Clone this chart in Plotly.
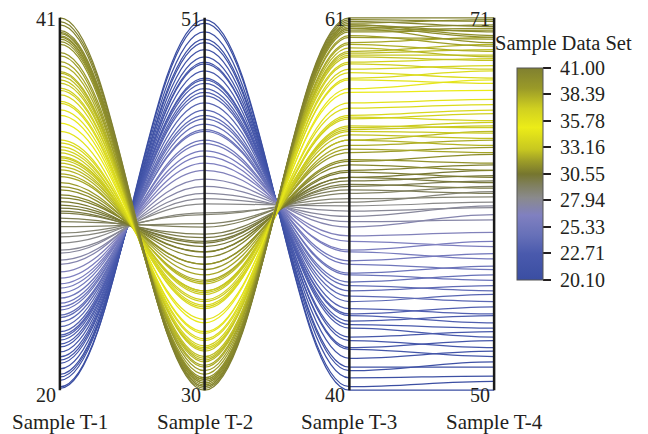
import plotly.graph_objects as go
from plotly.colors import sample_colorscale

# ---------------- data ----------------
dimensions = ["Sample T-1", "Sample T-2", "Sample T-3", "Sample T-4"]
axis_min = [20, 30, 40, 50]
axis_max = [41, 51, 61, 71]

t1 = [41.00, 40.79, 40.60, 40.28, 40.17, 40.10, 39.98, 39.91, 39.80, 39.65,
      39.50, 39.04, 38.85, 38.53, 38.29, 37.97, 37.88, 37.70, 37.50, 37.31,
      37.03, 36.90, 36.65, 36.28, 36.18, 35.81, 35.50, 35.06, 34.60, 34.11,
      33.94, 33.73, 33.55, 33.38, 33.17, 33.10, 32.98, 32.81, 32.61, 32.42,
      32.20, 32.04, 31.70, 31.48, 31.29, 31.01, 30.84, 30.63, 30.44, 30.27,
      30.10, 29.99, 29.71, 29.50, 29.22, 28.86, 28.65, 28.30, 27.90, 27.73,
      27.34, 27.10, 26.68, 26.32, 26.00, 25.76, 25.48, 25.19, 24.91, 24.70,
      24.52, 24.24, 24.10, 23.86, 23.58, 23.30, 23.11, 23.00, 22.83, 22.60,
      22.44, 22.16, 21.88, 21.70, 21.52, 21.20, 20.90, 20.75, 20.56, 20.19,
      20.10]

t2 = [30.0, 30.2, 30.1, 30.4, 30.2, 30.5, 30.3, 30.6, 30.4, 30.7,
      30.6, 31.1, 30.9, 31.4, 31.3, 31.7, 31.6, 31.9, 31.8, 32.2,
      32.3, 32.5, 32.4, 32.9, 32.8, 33.2, 33.3, 33.8, 34.0, 34.6,
      34.8, 34.7, 35.1, 35.0, 35.4, 35.5, 35.6, 35.6, 36.0, 36.1,
      36.2, 36.5, 36.8, 37.1, 37.1, 37.5, 37.8, 37.8, 38.1, 38.3,
      38.4, 38.6, 38.8, 39.2, 39.4, 39.9, 40.0, 40.5, 40.8, 41.1,
      41.5, 41.9, 42.4, 42.8, 43.2, 43.5, 43.9, 44.1, 44.6, 44.7,
      45.0, 45.3, 45.5, 45.8, 46.2, 46.6, 46.8, 47.0, 47.3, 47.5,
      47.6, 48.0, 48.4, 48.5, 48.8, 49.2, 49.6, 49.8, 50.2, 50.7,
      50.9]

t3 = [61.0, 60.8, 60.9, 60.6, 60.7, 60.4, 60.5, 60.3, 60.6, 60.2,
      60.4, 59.9, 60.0, 59.6, 59.5, 59.1, 59.3, 59.0, 58.8, 58.9,
      58.4, 58.5, 58.1, 57.9, 57.6, 57.5, 57.0, 56.8, 56.2, 55.9,
      55.5, 55.4, 55.3, 54.9, 54.8, 54.6, 54.7, 54.4, 54.1, 54.1,
      53.8, 53.6, 53.4, 53.0, 52.9, 52.7, 52.4, 52.3, 52.0, 52.0,
      51.8, 51.6, 51.5, 51.3, 51.1, 50.8, 50.6, 50.4, 50.1, 49.8,
      49.5, 49.2, 48.7, 48.4, 47.9, 47.8, 47.3, 47.1, 46.6, 46.5,
      46.1, 45.9, 45.6, 45.3, 45.0, 44.6, 44.3, 44.2, 43.9, 43.7,
      43.5, 43.0, 42.8, 42.4, 42.3, 41.8, 41.3, 41.1, 40.7, 40.2,
      40.0]

t4 = [71.0, 70.5, 70.8, 70.2, 70.9, 70.6, 69.9, 70.4, 70.0, 70.3,
      69.6, 69.8, 69.4, 69.9, 69.1, 69.5, 68.8, 69.2, 68.6, 68.9,
      68.1, 68.7, 68.3, 67.6, 68.0, 67.3, 67.5, 66.9, 66.4, 66.1,
      65.8, 65.2, 65.6, 64.8, 65.1, 64.5, 64.9, 64.2, 64.6, 63.8,
      64.1, 63.4, 63.7, 62.8, 63.3, 62.4, 62.7, 62.0, 62.4, 61.7,
      62.1, 61.4, 61.8, 61.1, 61.5, 60.9, 61.2, 60.6, 60.3, 60.4,
      59.6, 59.9, 58.9, 58.1, 58.4, 57.4, 57.7, 56.8, 57.0, 56.2,
      56.5, 55.6, 55.9, 55.0, 55.4, 54.3, 54.7, 53.8, 54.2, 53.5,
      53.0, 53.3, 52.4, 52.8, 51.9, 52.2, 51.3, 51.6, 50.8, 50.5,
      50.0]

cbar_title = "Sample Data Set"
cbar_tickvals = [20.10, 22.7125, 25.325, 27.9375, 30.55, 33.1625, 35.775, 38.3875, 41.00]
cbar_ticktext = ["20.10", "22.71", "25.33", "27.94", "30.55", "33.16", "35.78", "38.39", "41.00"]
cmin, cmax = 20.10, 41.00

colorscale = [
    [0.000, "rgb(58,78,162)"],
    [0.124, "rgb(74,90,173)"],
    [0.210, "rgb(102,112,184)"],
    [0.306, "rgb(128,128,192)"],
    [0.388, "rgb(138,138,140)"],
    [0.445, "rgb(128,128,96)"],
    [0.500, "rgb(118,118,46)"],
    [0.560, "rgb(156,156,40)"],
    [0.617, "rgb(200,200,32)"],
    [0.720, "rgb(236,236,24)"],
    [0.809, "rgb(208,208,32)"],
    [0.904, "rgb(154,154,40)"],
    [1.000, "rgb(128,128,48)"],
]

FONT = "Liberation Serif"
TXT = "#231F20"
CTRL = 0.38  # horizontal reach of the Bezier handles between neighbouring axes

# ---------------- figure ----------------
fig = go.Figure()

rows = list(zip(t1, t2, t3, t4))
fracs = [(v - cmin) / (cmax - cmin) for v in t1]
line_colors = sample_colorscale(colorscale, fracs)

shapes = []
for k in sorted(range(len(rows)), key=lambda j: t1[j]):
    # every dimension spans 21 units; put it on the shared (T-1) y scale
    ys = [v - (axis_min[i] - axis_min[0]) for i, v in enumerate(rows[k])]
    path = f"M 0,{ys[0]}"
    for i in range(1, len(ys)):
        path += f" C {i - 1 + CTRL},{ys[i - 1]} {i - CTRL},{ys[i]} {i},{ys[i]}"
    shapes.append(dict(type="path", xref="x", yref="y", path=path,
                       line=dict(color=line_colors[k], width=1.25), layer="above"))

# colour bar carrier (raw data of the colouring dimension)
fig.add_trace(go.Scatter(
    x=[0] * len(t1), y=t1, mode="markers",
    marker=dict(size=1, opacity=0, color=t1, cmin=cmin, cmax=cmax,
                colorscale=colorscale, showscale=True,
                colorbar=dict(
                    x=1.0455, xanchor="left", xpad=0,
                    y=0.5798, yanchor="middle", ypad=0,
                    len=212, lenmode="pixels", thickness=26, thicknessmode="pixels",
                    outlinecolor="#555555", outlinewidth=1,
                    tickmode="array", tickvals=cbar_tickvals,
                    ticktext=["\u00a0" + s for s in cbar_ticktext],
                    ticks="outside", ticklen=8, tickwidth=2, tickcolor=TXT,
                    tickfont=dict(family=FONT, size=20, color=TXT))),
    hoverinfo="skip", showlegend=False))

annotations = []
for i, name in enumerate(dimensions):
    shapes.append(dict(type="line", xref="x", yref="y", x0=i, x1=i,
                       y0=axis_min[0], y1=axis_max[0],
                       line=dict(color="#1a1a1a", width=2.5), layer="above"))
    annotations.append(dict(xref="x", yref="y", x=i, y=axis_max[0],
                            text=str(axis_max[i]), showarrow=False,
                            xanchor="right", yanchor="middle", xshift=-2, yshift=-1,
                            font=dict(family=FONT, size=20, color=TXT)))
    annotations.append(dict(xref="x", yref="y", x=i, y=axis_min[0],
                            text=str(axis_min[i]), showarrow=False,
                            xanchor="right", yanchor="middle", xshift=-2, yshift=-5,
                            font=dict(family=FONT, size=20, color=TXT)))
    annotations.append(dict(xref="x", yref="paper", x=i, y=0,
                            text=name, showarrow=False,
                            xanchor="center", yanchor="middle", yshift=-30,
                            font=dict(family=FONT, size=21, color=TXT)))

annotations.append(dict(xref="paper", yref="paper", x=1.15, y=0.9274,
                        text=cbar_title, showarrow=False,
                        xanchor="center", yanchor="middle",
                        font=dict(family=FONT, size=20.5, color=TXT)))

# the page body adds an 8 px offset, so the figure is drawn 8 px smaller
fig.update_layout(
    width=640, height=426,
    margin=dict(l=49, r=151, t=8, b=42),
    paper_bgcolor="white", plot_bgcolor="white",
    xaxis=dict(range=[-0.02, 3.02], visible=False, fixedrange=True),
    yaxis=dict(range=[19.9, 41.1], visible=False, fixedrange=True),
    shapes=shapes, annotations=annotations,
    showlegend=False,
)

fig.write_html("out.html")
